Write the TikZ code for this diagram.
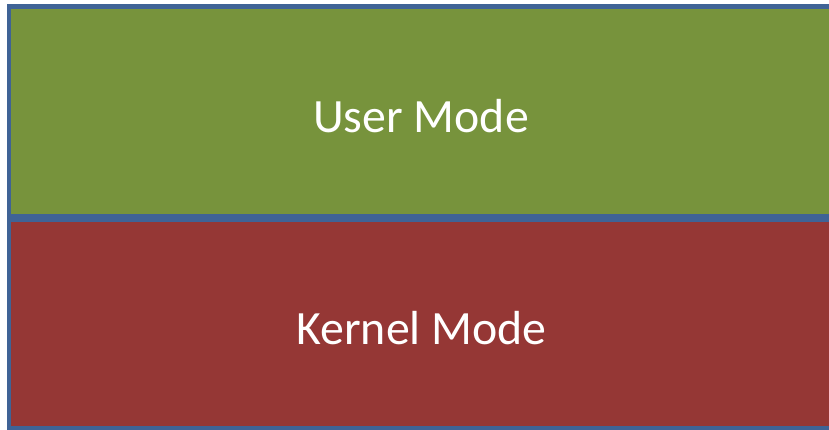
\documentclass[tikz,border=0pt]{standalone}
\usepackage{fontspec}
\setmainfont{Carlito}
\definecolor{bordercol}{HTML}{3F6396}
\definecolor{usergreen}{HTML}{77933C}
\definecolor{kernelred}{HTML}{953735}
\tikzset{
  modebox/.style={draw=bordercol, line width=4.5pt},
  modelabel/.style={text=white, font=\fontsize{47.8}{54}\selectfont, anchor=base}
}
\begin{document}
\begin{tikzpicture}[x=1pt,y=-1pt]
\useasboundingbox (0,0) rectangle (829,430);
\clip (0,0) rectangle (829,430);
\fill[white] (0,0) rectangle (829,430);
\draw[modebox, fill=usergreen] (9,6.5) rectangle (834,216.5);
\draw[modebox, fill=kernelred] (9,220) rectangle (834,428.5);
\node[modelabel] (user) at (421,133) {User Mode};
\node[modelabel] (kernel) at (421.5,344.5) {Kernel Mode};
\end{tikzpicture}
\end{document}
